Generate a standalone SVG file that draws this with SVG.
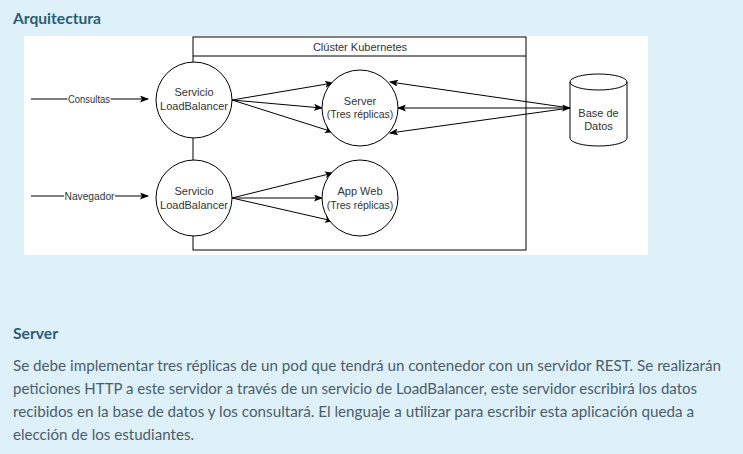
<svg xmlns="http://www.w3.org/2000/svg" width="743" height="454" viewBox="0 0 743 454">
<defs>
<marker id="arr" markerWidth="9" markerHeight="7" refX="8" refY="3.5" orient="auto" markerUnits="userSpaceOnUse">
<path d="M0,0 L9,3.5 L0,7 L2,3.5 Z" fill="#000"/>
</marker>
<marker id="arrs" markerWidth="9" markerHeight="7" refX="1" refY="3.5" orient="auto" markerUnits="userSpaceOnUse">
<path d="M9,0 L0,3.5 L9,7 L7,3.5 Z" fill="#000"/>
</marker>
</defs>
<style>
.bg{fill:#dff1f8}
.node{fill:#fff;stroke:#000;stroke-width:1}
.edge{fill:none;stroke:#000;stroke-width:1;marker-end:url(#arr)}
.t{font-family:"Liberation Sans",Arial,sans-serif;font-size:11px;fill:#333;text-anchor:middle}
.ts{font-family:"Liberation Sans",Arial,sans-serif;font-size:10.5px;fill:#333;text-anchor:middle}
.lbl{font-family:"Liberation Sans",Arial,sans-serif;font-size:10px;fill:#333;text-anchor:middle}
.h{font-family:Lato,"Noto Sans",sans-serif;font-size:15px;font-weight:700;fill:#2b5c78}
.p{font-family:Lato,"Noto Sans",sans-serif;font-size:15px;fill:#4a5d6c}
</style>
<rect class="bg" x="0" y="0" width="743" height="454"/>
<text class="h" x="13" y="24" textLength="88" lengthAdjust="spacingAndGlyphs">Arquitectura</text>
<rect x="24" y="36" width="624" height="219" fill="#fff"/>

<g id="cluster">
<rect x="193" y="37" width="333" height="213" fill="none" stroke="#000"/>
<line x1="193" y1="56" x2="526" y2="56" stroke="#000"/>
<text class="t" x="360" y="51">Clúster Kubernetes</text>
</g>

<g id="connectors">
<line x1="31" y1="99" x2="148" y2="99" class="edge"/>
<rect x="67.5" y="93" width="43" height="12" fill="#fff"/>
<text class="lbl" x="89" y="102.5" textLength="42" lengthAdjust="spacingAndGlyphs">Consultas</text>
<line x1="31" y1="196" x2="148" y2="196" class="edge"/>
<rect x="64" y="190" width="51" height="12" fill="#fff"/>
<text class="lbl" x="89.5" y="199.5" textLength="50" lengthAdjust="spacingAndGlyphs">Navegador</text>

<line x1="232" y1="100" x2="333" y2="83" class="edge"/>
<line x1="232" y1="100" x2="322" y2="108" class="edge"/>
<line x1="232" y1="100" x2="333" y2="132" class="edge"/>

<line x1="570" y1="108" x2="390" y2="82" class="edge"/>
<line x1="570" y1="108" x2="398" y2="108" class="edge" marker-start="url(#arrs)"/>
<line x1="570" y1="108" x2="390" y2="133" class="edge"/>

<line x1="232" y1="198" x2="333" y2="173" class="edge"/>
<line x1="232" y1="198" x2="322" y2="198" class="edge"/>
<line x1="232" y1="198" x2="333" y2="221" class="edge"/>
</g>

<g id="lb1">
<circle class="node" cx="194" cy="100" r="38"/>
<text class="t" x="194" y="96">Servicio</text>
<text class="t" x="194" y="110">LoadBalancer</text>
</g>
<g id="lb2">
<circle class="node" cx="194" cy="198" r="38"/>
<text class="t" x="194" y="195">Servicio</text>
<text class="t" x="194" y="209">LoadBalancer</text>
</g>
<g id="server">
<circle class="node" cx="360" cy="108" r="38"/>
<text class="t" x="360" y="105">Server</text>
<text class="ts" x="360" y="118">(Tres réplicas)</text>
</g>
<g id="appweb">
<circle class="node" cx="360" cy="198" r="38"/>
<text class="t" x="360" y="195">App Web</text>
<text class="ts" x="360" y="209">(Tres réplicas)</text>
</g>
<g id="db">
<path class="node" d="M570,82 A28.5,8 0 0,1 627,82 V138 A28.5,8 0 0,1 570,138 Z"/>
<path d="M570,82 A28.5,8 0 0,0 627,82" fill="none" stroke="#000"/>
<text class="t" x="598.5" y="117">Base de</text>
<text class="t" x="598.5" y="130">Datos</text>
</g>

<text class="h" x="13" y="339" textLength="45" lengthAdjust="spacingAndGlyphs">Server</text>
<text class="p" x="13" y="371" textLength="708" lengthAdjust="spacingAndGlyphs">Se debe implementar tres réplicas de un pod que tendrá un contenedor con un servidor REST. Se realizarán</text>
<text class="p" x="13" y="394" textLength="684" lengthAdjust="spacingAndGlyphs">peticiones HTTP a este servidor a través de un servicio de LoadBalancer, este servidor escribirá los datos</text>
<text class="p" x="13" y="417" textLength="681" lengthAdjust="spacingAndGlyphs">recibidos en la base de datos y los consultará. El lenguaje a utilizar para escribir esta aplicación queda a</text>
<text class="p" x="13" y="440" textLength="181" lengthAdjust="spacingAndGlyphs">elección de los estudiantes.</text>
</svg>
